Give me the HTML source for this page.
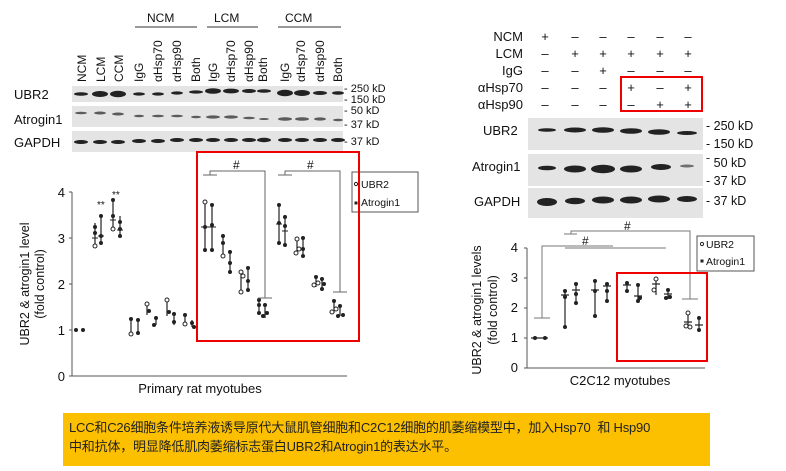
<!DOCTYPE html>
<html><head><meta charset="utf-8"><style>
body{margin:0;background:#fff;}
svg{display:block;font-family:"Liberation Sans",Arial,sans-serif;}
.cap{position:absolute;left:63px;top:413px;width:647px;height:53px;background:#fdc000;font-family:"Liberation Sans Narrow","Liberation Sans","Noto Sans CJK SC",sans-serif;font-size:13px;line-height:19px;color:#222;padding:5px 0 0 6px;box-sizing:border-box;white-space:nowrap;overflow:hidden;letter-spacing:-0.2px;}
</style></head><body>
<div style="position:relative;width:786px;height:471px;overflow:hidden;">
<svg width="786" height="471" viewBox="0 0 786 471">
<!-- LEFT BLOTS -->
<g font-size="12" fill="#111">
<text x="147" y="22">NCM</text><text x="214" y="22">LCM</text><text x="285" y="22">CCM</text>
</g>
<g stroke="#333" stroke-width="1"><line x1="135" y1="27" x2="197" y2="27"/><line x1="207" y1="27" x2="258" y2="27"/><line x1="278" y1="27" x2="341" y2="27"/></g>
<g font-size="12" fill="#111">
<text transform="translate(86,82) rotate(-90)">NCM</text>
<text transform="translate(105,82) rotate(-90)">LCM</text>
<text transform="translate(123,82) rotate(-90)">CCM</text>
<text transform="translate(143,82) rotate(-90)">IgG</text>
<text transform="translate(162,82) rotate(-90)">αHsp70</text>
<text transform="translate(181,82) rotate(-90)">αHsp90</text>
<text transform="translate(200,82) rotate(-90)">Both</text>
<text transform="translate(217,82) rotate(-90)">IgG</text>
<text transform="translate(235,82) rotate(-90)">αHsp70</text>
<text transform="translate(253,82) rotate(-90)">αHsp90</text>
<text transform="translate(267,82) rotate(-90)">Both</text>
<text transform="translate(289,82) rotate(-90)">IgG</text>
<text transform="translate(305,82) rotate(-90)">αHsp70</text>
<text transform="translate(324,82) rotate(-90)">αHsp90</text>
<text transform="translate(342,82) rotate(-90)">Both</text>
</g>
<rect x="72" y="86" width="271" height="16" fill="#e4e4e4"/>
<rect x="72" y="106" width="271" height="21" fill="#e4e4e4"/>
<rect x="72" y="131" width="271" height="21" fill="#e4e4e4"/>
<g fill="#222">
<ellipse cx="81" cy="94" rx="7" ry="1.8"/><ellipse cx="100" cy="94" rx="8" ry="3"/><ellipse cx="118" cy="94" rx="8" ry="3.2"/>
<ellipse cx="139" cy="94" rx="6" ry="1.6"/><ellipse cx="158" cy="94" rx="6" ry="1.6"/><ellipse cx="177" cy="93" rx="6" ry="1.6"/><ellipse cx="196" cy="92" rx="7" ry="1.6"/>
<ellipse cx="213" cy="91" rx="8" ry="2.8"/><ellipse cx="231" cy="91" rx="8" ry="2.4"/><ellipse cx="249" cy="91" rx="7" ry="2"/><ellipse cx="264" cy="91" rx="7" ry="1.8"/>
<ellipse cx="285" cy="93" rx="8" ry="3.2"/><ellipse cx="302" cy="93" rx="8" ry="3"/><ellipse cx="320" cy="93" rx="7" ry="2"/><ellipse cx="338" cy="93" rx="6" ry="1.8"/>
<g opacity="0.7">
<ellipse cx="81" cy="113" rx="6" ry="1.3"/><ellipse cx="100" cy="113" rx="6" ry="1.5"/><ellipse cx="118" cy="114" rx="6" ry="1.5"/>
<ellipse cx="139" cy="116" rx="5" ry="1.2"/><ellipse cx="158" cy="116" rx="6" ry="1.3"/><ellipse cx="177" cy="116" rx="6" ry="1.3"/><ellipse cx="196" cy="117" rx="5" ry="1.2"/>
<ellipse cx="213" cy="117" rx="7" ry="1.6"/><ellipse cx="231" cy="117" rx="7" ry="1.6"/><ellipse cx="249" cy="118" rx="6" ry="1.3"/><ellipse cx="264" cy="119" rx="5" ry="1"/>
<ellipse cx="285" cy="119" rx="7" ry="1.8"/><ellipse cx="302" cy="119" rx="7" ry="1.8"/><ellipse cx="320" cy="119" rx="6" ry="1.6"/><ellipse cx="338" cy="120" rx="5" ry="1.2"/>
</g>
<ellipse cx="81" cy="142" rx="7" ry="2"/><ellipse cx="100" cy="142" rx="7" ry="2"/><ellipse cx="118" cy="142" rx="7" ry="2"/>
<ellipse cx="139" cy="141" rx="7" ry="2"/><ellipse cx="158" cy="141" rx="7" ry="2"/><ellipse cx="177" cy="140" rx="7" ry="2"/><ellipse cx="196" cy="140" rx="7" ry="2"/>
<ellipse cx="213" cy="140" rx="7" ry="2"/><ellipse cx="231" cy="140" rx="7" ry="2"/><ellipse cx="249" cy="140" rx="7" ry="2"/><ellipse cx="264" cy="140" rx="7" ry="2.2"/>
<ellipse cx="285" cy="140" rx="7" ry="2"/><ellipse cx="302" cy="140" rx="7" ry="2"/><ellipse cx="320" cy="140" rx="7" ry="2"/><ellipse cx="338" cy="140" rx="7" ry="2"/>
</g>
<g font-size="13" fill="#111">
<text x="14" y="99">UBR2</text><text x="14" y="124">Atrogin1</text><text x="14" y="147">GAPDH</text>
</g>
<g font-size="11" fill="#111">
<text x="344" y="92">- 250 kD</text><text x="344" y="103">- 150 kD</text><text x="344" y="114">- 50 kD</text><text x="344" y="128">- 37 kD</text><text x="344" y="145">- 37 kD</text>
</g>

<!-- LEFT CHART -->
<g stroke="#555" stroke-width="1" fill="none">
<line x1="72" y1="192" x2="72" y2="376"/><line x1="72" y1="376" x2="347" y2="376"/>
<line x1="69" y1="192" x2="72" y2="192"/><line x1="69" y1="238" x2="72" y2="238"/><line x1="69" y1="284" x2="72" y2="284"/><line x1="69" y1="330" x2="72" y2="330"/><line x1="69" y1="376" x2="72" y2="376"/>
</g>
<g font-size="13" fill="#111" text-anchor="end">
<text x="65" y="197">4</text><text x="65" y="243">3</text><text x="65" y="289">2</text><text x="65" y="335">1</text><text x="65" y="381">0</text>
</g>
<text transform="translate(29,284) rotate(-90)" font-size="12.5" text-anchor="middle" fill="#111">UBR2 &amp; atrogin1 level</text>
<text transform="translate(44,284) rotate(-90)" font-size="12.5" text-anchor="middle" fill="#111">(fold control)</text>
<text x="200" y="393" font-size="13" text-anchor="middle" fill="#111">Primary rat myotubes</text>
<text x="97" y="208" font-size="10" fill="#111">**</text><text x="112" y="198" font-size="10" fill="#111">**</text>

<g stroke="#222" stroke-width="1.2">
<line x1="95" y1="223" x2="95" y2="246"/><line x1="101" y1="216" x2="101" y2="243"/>
<line x1="113" y1="200" x2="113" y2="229"/><line x1="120" y1="216" x2="120" y2="236"/>
<line x1="131" y1="319" x2="131" y2="334"/><line x1="138" y1="319" x2="138" y2="333"/>
<line x1="147" y1="304" x2="147" y2="315"/><line x1="156" y1="316" x2="156" y2="325"/>
<line x1="167" y1="300" x2="167" y2="316"/><line x1="174" y1="314" x2="174" y2="325"/>
<line x1="185" y1="315" x2="185" y2="325"/><line x1="192" y1="320" x2="192" y2="327"/>
<line x1="205" y1="202" x2="205" y2="252"/><line x1="212" y1="205" x2="212" y2="250"/>
<line x1="223" y1="236" x2="223" y2="256"/><line x1="230" y1="250" x2="230" y2="272"/>
<line x1="241" y1="270" x2="241" y2="292"/><line x1="248" y1="268" x2="248" y2="290"/>
<line x1="259" y1="299" x2="259" y2="315"/><line x1="265" y1="305" x2="265" y2="318"/>
<line x1="279" y1="205" x2="279" y2="243"/><line x1="285" y1="215" x2="285" y2="245"/>
<line x1="297" y1="238" x2="297" y2="253"/><line x1="303" y1="238" x2="303" y2="256"/>
<line x1="316" y1="276" x2="316" y2="287"/><line x1="322" y1="278" x2="322" y2="289"/>
<line x1="334" y1="301" x2="334" y2="313"/><line x1="340" y1="306" x2="340" y2="316"/>
</g>
<g fill="#222">
<circle cx="76" cy="330" r="2"/><circle cx="83" cy="330" r="2"/>
<circle cx="95" cy="227" r="2"/><circle cx="95" cy="233" r="2"/><circle cx="95" cy="246" r="2" fill="#fff" stroke="#222"/>
<circle cx="101" cy="216" r="2"/><circle cx="101" cy="236" r="2"/><circle cx="101" cy="243" r="2"/>
<circle cx="113" cy="200" r="2"/><circle cx="113" cy="216" r="2"/><circle cx="113" cy="229" r="2" fill="#fff" stroke="#222"/>
<circle cx="120" cy="222" r="2"/><circle cx="120" cy="229" r="2"/><circle cx="120" cy="236" r="2"/>
<circle cx="131" cy="319" r="2"/><circle cx="131" cy="334" r="2" fill="#fff" stroke="#222"/><circle cx="138" cy="320" r="2"/><circle cx="138" cy="333" r="2"/>
<circle cx="147" cy="304" r="2" fill="#fff" stroke="#222"/><circle cx="149" cy="311" r="2"/><circle cx="156" cy="318" r="2"/><circle cx="154" cy="325" r="2"/>
<circle cx="167" cy="300" r="2" fill="#fff" stroke="#222"/><circle cx="169" cy="312" r="2"/><circle cx="174" cy="314" r="2"/><circle cx="174" cy="322" r="2"/>
<circle cx="185" cy="315" r="2"/><circle cx="185" cy="324" r="2" fill="#fff" stroke="#222"/><circle cx="192" cy="323" r="2"/><circle cx="194" cy="327" r="2"/>
<circle cx="205" cy="202" r="2" fill="#fff" stroke="#222"/><circle cx="205" cy="227" r="2"/><circle cx="205" cy="250" r="2"/>
<circle cx="212" cy="205" r="2"/><circle cx="212" cy="225" r="2"/><circle cx="212" cy="250" r="2"/>
<circle cx="223" cy="236" r="2"/><circle cx="223" cy="243" r="2"/><circle cx="223" cy="256" r="2" fill="#fff" stroke="#222"/>
<circle cx="230" cy="252" r="2"/><circle cx="230" cy="263" r="2"/><circle cx="230" cy="272" r="2"/>
<circle cx="241" cy="272" r="2" fill="#fff" stroke="#222"/><circle cx="243" cy="276" r="2" fill="#fff" stroke="#222"/><circle cx="241" cy="292" r="2" fill="#fff" stroke="#222"/>
<circle cx="248" cy="268" r="2"/><circle cx="248" cy="281" r="2"/><circle cx="248" cy="290" r="2"/>
<circle cx="259" cy="300" r="2"/><circle cx="259" cy="305" r="2"/><circle cx="259" cy="313" r="2"/>
<circle cx="265" cy="305" r="2"/><circle cx="263" cy="316" r="2"/><circle cx="267" cy="313" r="2"/>
<circle cx="279" cy="205" r="2"/><circle cx="279" cy="223" r="2"/><circle cx="279" cy="243" r="2"/>
<circle cx="285" cy="217" r="2"/><circle cx="285" cy="226" r="2"/><circle cx="285" cy="245" r="2"/>
<circle cx="297" cy="239" r="2" fill="#fff" stroke="#222"/><circle cx="299" cy="249" r="2" fill="#fff" stroke="#222"/><circle cx="296" cy="253" r="2" fill="#fff" stroke="#222"/>
<circle cx="303" cy="238" r="2"/><circle cx="303" cy="249" r="2"/><circle cx="303" cy="256" r="2"/>
<circle cx="314" cy="285" r="2" fill="#fff" stroke="#222"/><circle cx="316" cy="277" r="2"/><circle cx="318" cy="283" r="2" fill="#fff" stroke="#222"/>
<circle cx="322" cy="279" r="2"/><circle cx="324" cy="284" r="2"/><circle cx="322" cy="289" r="2"/>
<circle cx="334" cy="301" r="2"/><circle cx="332" cy="312" r="2" fill="#fff" stroke="#222"/><circle cx="336" cy="309" r="2" fill="#fff" stroke="#222"/>
<circle cx="340" cy="306" r="2"/><circle cx="338" cy="316" r="2"/><circle cx="343" cy="315" r="2"/>
</g>
<g stroke="#222" stroke-width="1">
<line x1="92" y1="238" x2="98" y2="238"/><line x1="98" y1="236" x2="104" y2="236"/>
<line x1="110" y1="220" x2="116" y2="220"/><line x1="117" y1="230" x2="123" y2="230"/>
<line x1="201" y1="227" x2="209" y2="227"/><line x1="208" y1="227" x2="216" y2="227"/>
<line x1="276" y1="224" x2="282" y2="224"/><line x1="282" y1="231" x2="288" y2="231"/>
</g>
<g stroke="#666" stroke-width="1" fill="none">
<polyline points="210,175 210,171 265,171 265,298"/><line x1="203" y1="175" x2="217" y2="175"/><line x1="258" y1="298" x2="272" y2="298"/>
<polyline points="285,175 285,171 340,171 340,292"/><line x1="278" y1="175" x2="292" y2="175"/><line x1="333" y1="292" x2="347" y2="292"/>
</g>
<text x="233" y="169" font-size="12" fill="#111">#</text><text x="307" y="169" font-size="12" fill="#111">#</text>
<rect x="352" y="172" width="66" height="40" fill="#fff" stroke="#555"/>
<circle cx="356" cy="184" r="1.6" fill="#fff" stroke="#222"/><text x="361" y="188" font-size="10.5" fill="#111">UBR2</text>
<rect x="354.5" y="201.5" width="3" height="3" fill="#222"/><text x="361" y="206" font-size="10.5" fill="#111">Atrogin1</text>
<rect x="197" y="152" width="162" height="189" fill="none" stroke="#e00" stroke-width="2"/>

<!-- RIGHT BLOTS -->
<g font-size="13" fill="#111" text-anchor="end">
<text x="523" y="41">NCM</text><text x="523" y="58">LCM</text><text x="523" y="75">IgG</text><text x="523" y="92">αHsp70</text><text x="523" y="109">αHsp90</text>
</g>
<g font-size="13" fill="#111" text-anchor="middle">
<text x="545" y="41">+</text><text x="575" y="41">–</text><text x="603" y="41">–</text><text x="631" y="41">–</text><text x="660" y="41">–</text><text x="688" y="41">–</text>
<text x="545" y="58">–</text><text x="575" y="58">+</text><text x="603" y="58">+</text><text x="631" y="58">+</text><text x="660" y="58">+</text><text x="688" y="58">+</text>
<text x="545" y="75">–</text><text x="575" y="75">–</text><text x="603" y="75">+</text><text x="631" y="75">–</text><text x="660" y="75">–</text><text x="688" y="75">–</text>
<text x="545" y="92">–</text><text x="575" y="92">–</text><text x="603" y="92">–</text><text x="631" y="92">+</text><text x="660" y="92">–</text><text x="688" y="92">+</text>
<text x="545" y="109">–</text><text x="575" y="109">–</text><text x="603" y="109">–</text><text x="631" y="109">–</text><text x="660" y="109">+</text><text x="688" y="109">+</text>
</g>
<rect x="621" y="77" width="81" height="34" fill="none" stroke="#e00" stroke-width="2"/>
<rect x="528" y="118" width="175" height="32" fill="#e4e4e4"/>
<rect x="528" y="154" width="175" height="32" fill="#e4e4e4"/>
<rect x="528" y="188" width="175" height="30" fill="#e4e4e4"/>
<g fill="#222">
<ellipse cx="547" cy="130" rx="9" ry="1.8"/><ellipse cx="575" cy="130" rx="11" ry="2.5"/><ellipse cx="603" cy="130" rx="11" ry="2.8"/><ellipse cx="631" cy="131" rx="11" ry="2.8"/><ellipse cx="659" cy="132" rx="11" ry="2.8"/><ellipse cx="687" cy="133" rx="10" ry="2"/>
<ellipse cx="547" cy="168" rx="9" ry="2.3"/><ellipse cx="575" cy="169" rx="11" ry="3.5"/><ellipse cx="603" cy="169" rx="12" ry="4.2"/><ellipse cx="631" cy="169" rx="11" ry="3.5"/><ellipse cx="661" cy="167" rx="10" ry="3"/><ellipse cx="687" cy="166" rx="7" ry="1.5" opacity="0.6"/>
<ellipse cx="547" cy="202" rx="10" ry="4"/><ellipse cx="575" cy="201" rx="10" ry="3.2"/><ellipse cx="603" cy="200" rx="11" ry="3.5"/><ellipse cx="631" cy="200" rx="11" ry="3.5"/><ellipse cx="659" cy="199" rx="11" ry="3.5"/><ellipse cx="687" cy="199" rx="10" ry="3"/>
</g>
<g font-size="13" fill="#111">
<text x="483" y="135">UBR2</text><text x="472" y="171">Atrogin1</text><text x="474" y="206">GAPDH</text>
</g>
<g font-size="12.5" fill="#111">
<text x="706" y="130">- 250 kD</text><text x="706" y="148">- 150 kD</text><text x="706" y="167">ˉ 50 kD</text><text x="706" y="185">- 37 kD</text><text x="706" y="205">- 37 kD</text>
</g>

<!-- RIGHT CHART -->
<g stroke="#555" stroke-width="1" fill="none">
<line x1="527" y1="248" x2="527" y2="368"/><line x1="527" y1="368" x2="705" y2="368"/>
<line x1="524" y1="248" x2="527" y2="248"/><line x1="524" y1="278" x2="527" y2="278"/><line x1="524" y1="308" x2="527" y2="308"/><line x1="524" y1="338" x2="527" y2="338"/><line x1="524" y1="368" x2="527" y2="368"/>
</g>
<g font-size="13" fill="#111" text-anchor="end">
<text x="518" y="252">4</text><text x="518" y="282">3</text><text x="518" y="312">2</text><text x="518" y="342">1</text><text x="518" y="372">0</text>
</g>
<text transform="translate(481,310) rotate(-90)" font-size="12.5" text-anchor="middle" fill="#111">UBR2 &amp; atrogin1 levels</text>
<text transform="translate(497,310) rotate(-90)" font-size="12.5" text-anchor="middle" fill="#111">(fold control)</text>
<text x="620" y="385" font-size="13" text-anchor="middle" fill="#111">C2C12 myotubes</text>
<g stroke="#777" stroke-width="1" fill="none">
<polyline points="542,318 542,246 613,246"/><line x1="534" y1="318" x2="550" y2="318"/>
<line x1="565" y1="248" x2="666" y2="248"/>
<line x1="564" y1="234" x2="577" y2="234"/>
<polyline points="571,234 571,231 690,231 690,299"/><line x1="682" y1="299" x2="698" y2="299"/>
</g>
<text x="582" y="245" font-size="12" fill="#111">#</text><text x="624" y="230" font-size="12" fill="#111">#</text>
<g stroke="#222" stroke-width="1.2">
<line x1="531" y1="338" x2="548" y2="338"/>
<line x1="565" y1="291" x2="565" y2="327"/><line x1="576" y1="284" x2="576" y2="303"/>
<line x1="595" y1="281" x2="595" y2="316"/><line x1="607" y1="284" x2="607" y2="301"/>
<line x1="627" y1="283" x2="627" y2="291"/><line x1="638" y1="285" x2="638" y2="303"/>
<line x1="656" y1="279" x2="656" y2="295"/><line x1="668" y1="290" x2="668" y2="299"/>
<line x1="688" y1="313" x2="688" y2="327"/><line x1="699" y1="318" x2="699" y2="330"/>
<line x1="561" y1="295" x2="569" y2="295"/><line x1="572" y1="290" x2="580" y2="290"/><line x1="591" y1="290" x2="599" y2="290"/><line x1="603" y1="286" x2="611" y2="286"/>
<line x1="623" y1="285" x2="631" y2="285"/><line x1="634" y1="296" x2="642" y2="296"/><line x1="652" y1="284" x2="660" y2="284"/><line x1="664" y1="294" x2="672" y2="294"/>
<line x1="684" y1="322" x2="692" y2="322"/><line x1="695" y1="325" x2="703" y2="325"/>
</g>
<g fill="#222">
<circle cx="535" cy="338" r="2"/><circle cx="545" cy="338" r="2"/>
<circle cx="565" cy="291" r="2"/><circle cx="565" cy="297" r="2"/><circle cx="565" cy="327" r="2"/>
<circle cx="576" cy="284" r="2"/><circle cx="576" cy="294" r="2"/><circle cx="576" cy="303" r="2"/>
<circle cx="595" cy="281" r="2"/><circle cx="595" cy="291" r="2"/><circle cx="595" cy="316" r="2"/>
<circle cx="607" cy="284" r="2"/><circle cx="607" cy="291" r="2"/><circle cx="607" cy="301" r="2"/>
<circle cx="627" cy="283" r="2"/><circle cx="627" cy="291" r="2"/><circle cx="638" cy="285" r="2"/><circle cx="638" cy="301" r="2"/><circle cx="640" cy="298" r="2"/>
<circle cx="656" cy="279" r="2" fill="#fff" stroke="#222"/><circle cx="654" cy="290" r="2" fill="#fff" stroke="#222"/><circle cx="668" cy="290" r="2"/><circle cx="666" cy="298" r="2"/><circle cx="670" cy="297" r="2"/>
<circle cx="688" cy="313" r="2" fill="#fff" stroke="#222"/><circle cx="686" cy="326" r="2" fill="#fff" stroke="#222"/><circle cx="690" cy="327" r="2" fill="#fff" stroke="#222"/>
<circle cx="699" cy="318" r="2"/><circle cx="699" cy="330" r="2"/>
</g>
<rect x="697" y="236" width="57" height="35" fill="#fff" stroke="#555"/>
<circle cx="702" cy="244" r="1.6" fill="#fff" stroke="#222"/><text x="706" y="248" font-size="10.5" fill="#111">UBR2</text>
<rect x="700.5" y="259.5" width="3" height="3" fill="#222"/><text x="706" y="265" font-size="10.5" fill="#111">Atrogin1</text>
<rect x="617" y="273" width="90" height="88" fill="none" stroke="#e00" stroke-width="2"/>
</svg>
<div class="cap">LCC和C26细胞条件培养液诱导原代大鼠肌管细胞和C2C12细胞的肌萎缩模型中，加入Hsp70&nbsp; 和 Hsp90<br>中和抗体，明显降低肌肉萎缩标志蛋白UBR2和Atrogin1的表达水平。</div>
</div>
</body></html>
